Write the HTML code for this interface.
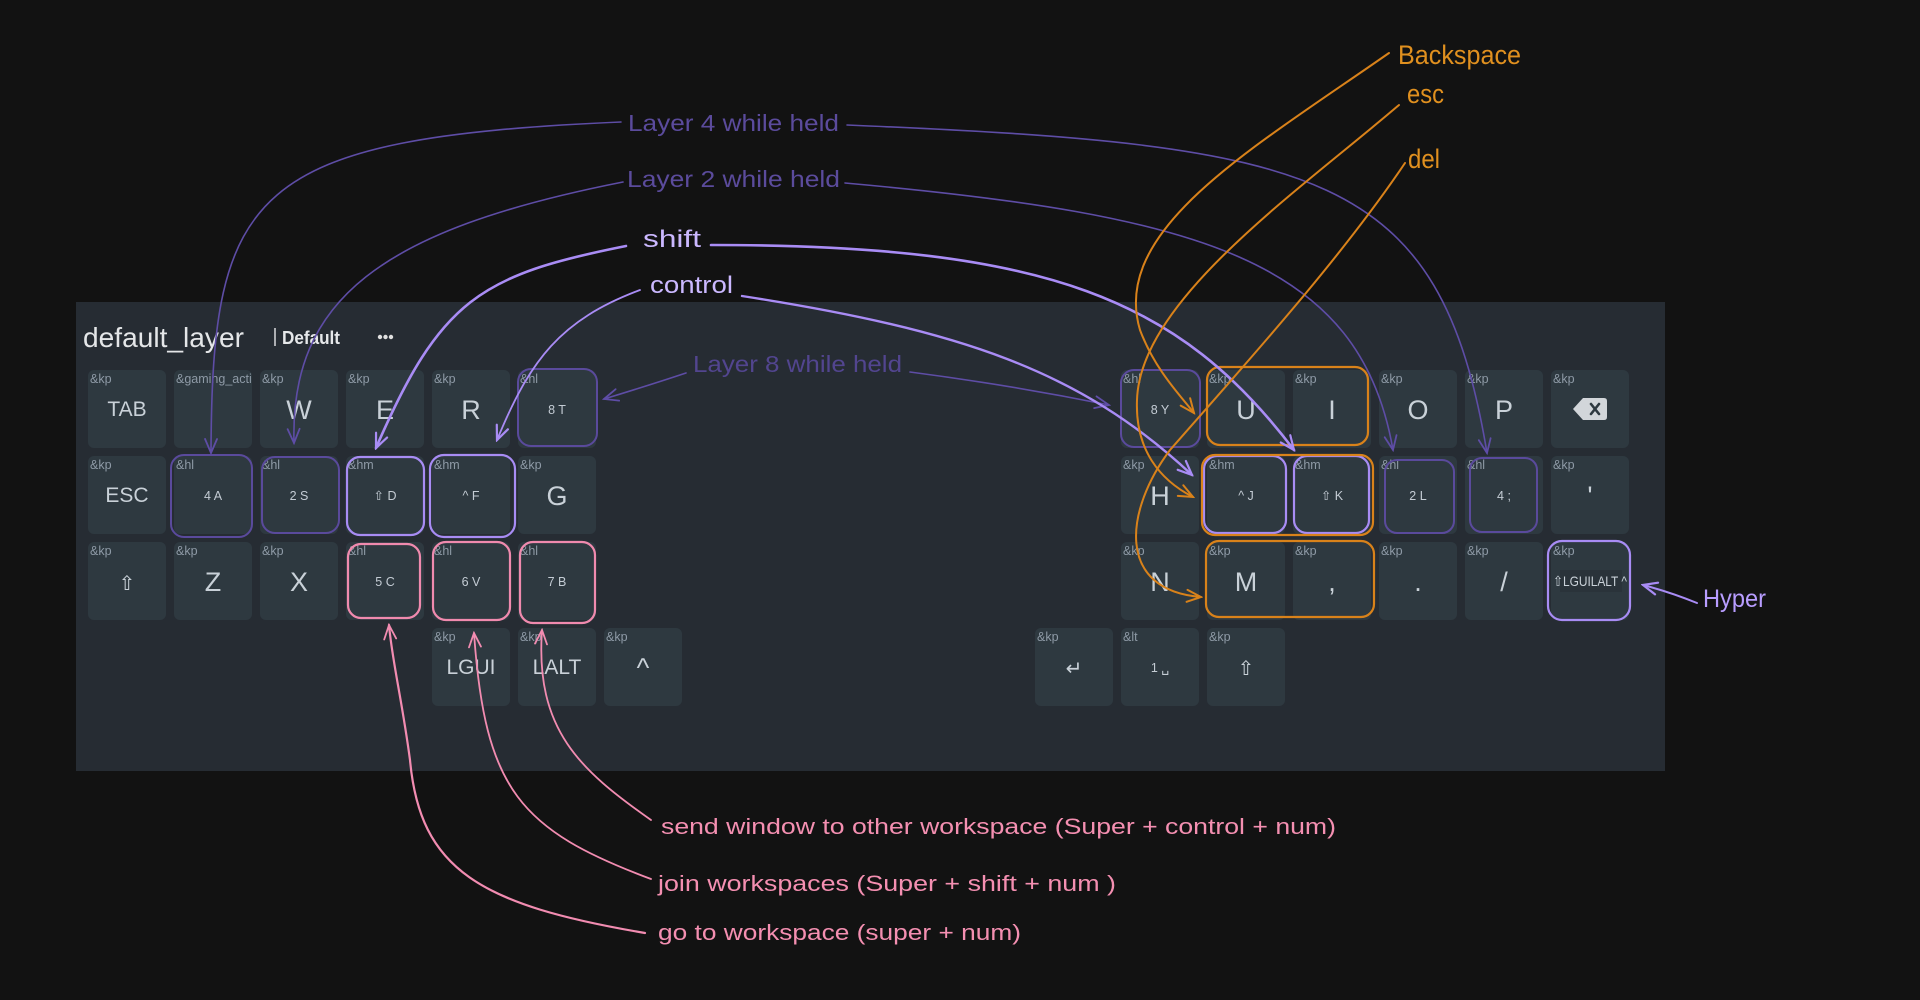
<!DOCTYPE html>
<html><head><meta charset="utf-8"><style>
html,body{margin:0;padding:0;background:#121212;}
svg{display:block}
.k{fill:#2e3940}
.sl{font-family:"Liberation Sans","DejaVu Sans",sans-serif;font-size:12.5px;fill:#8e9aa6}
.big{font-family:"Liberation Sans","DejaVu Sans",sans-serif;font-size:27px;fill:#c9d1d8;text-anchor:middle}
.med{font-family:"Liberation Sans","DejaVu Sans",sans-serif;font-size:21px;fill:#c9d1d8;text-anchor:middle}
.sm{font-family:"Liberation Sans","DejaVu Sans",sans-serif;font-size:12.5px;fill:#c4ccd4;text-anchor:middle}
.sym{font-family:"DejaVu Sans",sans-serif;font-size:20px;fill:#c9d1d8;text-anchor:middle}
.ann{font-family:"Liberation Sans","DejaVu Sans",sans-serif;}
</style></head><body>
<svg width="1920" height="1000" viewBox="0 0 1920 1000" xmlns="http://www.w3.org/2000/svg">
<defs>
<marker id="mD" viewBox="-16 -9 18 18" markerWidth="18" markerHeight="18" refX="0" refY="0" orient="auto" markerUnits="userSpaceOnUse"><path d="M-14,-6 L0,0 L-14,6" fill="none" stroke="#5e4da6" stroke-width="1.8" stroke-linecap="round"/></marker>
<marker id="mL" viewBox="-16 -9 18 18" markerWidth="18" markerHeight="18" refX="0" refY="0" orient="auto" markerUnits="userSpaceOnUse"><path d="M-14,-6 L0,0 L-14,6" fill="none" stroke="#a98cf5" stroke-width="2.2" stroke-linecap="round"/></marker>
<marker id="mP" viewBox="-16 -9 18 18" markerWidth="18" markerHeight="18" refX="0" refY="0" orient="auto" markerUnits="userSpaceOnUse"><path d="M-14,-6 L0,0 L-14,6" fill="none" stroke="#f28cb1" stroke-width="1.8" stroke-linecap="round"/></marker>
<marker id="mO" viewBox="-16 -9 18 18" markerWidth="18" markerHeight="18" refX="0" refY="0" orient="auto" markerUnits="userSpaceOnUse"><path d="M-14,-6 L0,0 L-14,6" fill="none" stroke="#d9821a" stroke-width="2" stroke-linecap="round"/></marker>
</defs>
<rect width="1920" height="1000" fill="#121212"/>
<rect x="76" y="302" width="1589" height="469" fill="#262c33"/>

<!-- header -->
<text x="83" y="347" font-family="Liberation Sans, DejaVu Sans, sans-serif" font-size="28" fill="#e4e6e8" textLength="161" lengthAdjust="spacingAndGlyphs">default_layer</text>
<line x1="275" y1="328" x2="275" y2="346" stroke="#d8dadc" stroke-width="1.5"/>
<text x="282" y="344" font-family="Liberation Sans, DejaVu Sans, sans-serif" font-size="18" font-weight="bold" fill="#e6e8ea" textLength="58" lengthAdjust="spacingAndGlyphs">Default</text>
<circle cx="380" cy="337" r="2.2" fill="#e0e0e0"/><circle cx="385.5" cy="337" r="2.2" fill="#e0e0e0"/><circle cx="391" cy="337" r="2.2" fill="#e0e0e0"/>

<!-- LEFT KEYS -->
<g>
<rect class="k" x="88" y="370" width="78" height="78" rx="6"/><text class="sl" x="90" y="383">&amp;kp</text><text class="med" x="127" y="416">TAB</text>
<rect class="k" x="174" y="370" width="78" height="78" rx="6"/><text class="sl" x="176" y="383">&amp;gaming_acti</text>
<rect class="k" x="260" y="370" width="78" height="78" rx="6"/><text class="sl" x="262" y="383">&amp;kp</text><text class="big" x="299" y="419">W</text>
<rect class="k" x="346" y="370" width="78" height="78" rx="6"/><text class="sl" x="348" y="383">&amp;kp</text><text class="big" x="385" y="419">E</text>
<rect class="k" x="432" y="370" width="78" height="78" rx="6"/><text class="sl" x="434" y="383">&amp;kp</text><text class="big" x="471" y="419">R</text>
<rect class="k" x="518" y="370" width="78" height="78" rx="6"/><text class="sl" x="520" y="383">&amp;hl</text><text class="sm" x="557" y="414">8 T</text>

<rect class="k" x="88" y="456" width="78" height="78" rx="6"/><text class="sl" x="90" y="469">&amp;kp</text><text class="med" x="127" y="502">ESC</text>
<rect class="k" x="174" y="456" width="78" height="78" rx="6"/><text class="sl" x="176" y="469">&amp;hl</text><text class="sm" x="213" y="500">4 A</text>
<rect class="k" x="260" y="456" width="78" height="78" rx="6"/><text class="sl" x="262" y="469">&amp;hl</text><text class="sm" x="299" y="500">2 S</text>
<rect class="k" x="346" y="456" width="78" height="78" rx="6"/><text class="sl" x="348" y="469">&amp;hm</text><text class="sm" x="385" y="500">⇧ D</text>
<rect class="k" x="432" y="456" width="78" height="78" rx="6"/><text class="sl" x="434" y="469">&amp;hm</text><text class="sm" x="471" y="500">^ F</text>
<rect class="k" x="518" y="456" width="78" height="78" rx="6"/><text class="sl" x="520" y="469">&amp;kp</text><text class="big" x="557" y="505">G</text>

<rect class="k" x="88" y="542" width="78" height="78" rx="6"/><text class="sl" x="90" y="555">&amp;kp</text><text class="sym" x="127" y="590">⇧</text>
<rect class="k" x="174" y="542" width="78" height="78" rx="6"/><text class="sl" x="176" y="555">&amp;kp</text><text class="big" x="213" y="591">Z</text>
<rect class="k" x="260" y="542" width="78" height="78" rx="6"/><text class="sl" x="262" y="555">&amp;kp</text><text class="big" x="299" y="591">X</text>
<rect class="k" x="346" y="542" width="78" height="78" rx="6"/><text class="sl" x="348" y="555">&amp;hl</text><text class="sm" x="385" y="586">5 C</text>
<rect class="k" x="432" y="542" width="78" height="78" rx="6"/><text class="sl" x="434" y="555">&amp;hl</text><text class="sm" x="471" y="586">6 V</text>
<rect class="k" x="518" y="542" width="78" height="78" rx="6"/><text class="sl" x="520" y="555">&amp;hl</text><text class="sm" x="557" y="586">7 B</text>

<rect class="k" x="432" y="628" width="78" height="78" rx="6"/><text class="sl" x="434" y="641">&amp;kp</text><text class="med" x="471" y="674">LGUI</text>
<rect class="k" x="518" y="628" width="78" height="78" rx="6"/><text class="sl" x="520" y="641">&amp;kp</text><text class="med" x="557" y="674">LALT</text>
<rect class="k" x="604" y="628" width="78" height="78" rx="6"/><text class="sl" x="606" y="641">&amp;kp</text><text class="big" x="643" y="677">^</text>
</g>

<!-- RIGHT KEYS -->
<g>
<rect class="k" x="1121" y="370" width="78" height="78" rx="6"/><text class="sl" x="1123" y="383">&amp;hl</text><text class="sm" x="1160" y="414">8 Y</text>
<rect class="k" x="1207" y="370" width="78" height="78" rx="6"/><text class="sl" x="1209" y="383">&amp;kp</text><text class="big" x="1246" y="419">U</text>
<rect class="k" x="1293" y="370" width="78" height="78" rx="6"/><text class="sl" x="1295" y="383">&amp;kp</text><text class="big" x="1332" y="419">I</text>
<rect class="k" x="1379" y="370" width="78" height="78" rx="6"/><text class="sl" x="1381" y="383">&amp;kp</text><text class="big" x="1418" y="419">O</text>
<rect class="k" x="1465" y="370" width="78" height="78" rx="6"/><text class="sl" x="1467" y="383">&amp;kp</text><text class="big" x="1504" y="419">P</text>
<rect class="k" x="1551" y="370" width="78" height="78" rx="6"/><text class="sl" x="1553" y="383">&amp;kp</text>
<path d="M1573,409 L1583,398 L1604,398 Q1607,398 1607,401 L1607,417 Q1607,420 1604,420 L1583,420 Z" fill="#d2d6da"/>
<path d="M1591,404 L1599,414 M1599,404 L1591,414" stroke="#2e3940" stroke-width="2.6" stroke-linecap="round"/>

<rect class="k" x="1121" y="456" width="78" height="78" rx="6"/><text class="sl" x="1123" y="469">&amp;kp</text><text class="big" x="1160" y="505">H</text>
<rect class="k" x="1207" y="456" width="78" height="78" rx="6"/><text class="sl" x="1209" y="469">&amp;hm</text><text class="sm" x="1246" y="500">^ J</text>
<rect class="k" x="1293" y="456" width="78" height="78" rx="6"/><text class="sl" x="1295" y="469">&amp;hm</text><text class="sm" x="1332" y="500">⇧ K</text>
<rect class="k" x="1379" y="456" width="78" height="78" rx="6"/><text class="sl" x="1381" y="469">&amp;hl</text><text class="sm" x="1418" y="500">2 L</text>
<rect class="k" x="1465" y="456" width="78" height="78" rx="6"/><text class="sl" x="1467" y="469">&amp;hl</text><text class="sm" x="1504" y="500">4 ;</text>
<rect class="k" x="1551" y="456" width="78" height="78" rx="6"/><text class="sl" x="1553" y="469">&amp;kp</text><text class="big" x="1590" y="505">'</text>

<rect class="k" x="1121" y="542" width="78" height="78" rx="6"/><text class="sl" x="1123" y="555">&amp;kp</text><text class="big" x="1160" y="591">N</text>
<rect class="k" x="1207" y="542" width="78" height="78" rx="6"/><text class="sl" x="1209" y="555">&amp;kp</text><text class="big" x="1246" y="591">M</text>
<rect class="k" x="1293" y="542" width="78" height="78" rx="6"/><text class="sl" x="1295" y="555">&amp;kp</text><text class="big" x="1332" y="591">,</text>
<rect class="k" x="1379" y="542" width="78" height="78" rx="6"/><text class="sl" x="1381" y="555">&amp;kp</text><text class="big" x="1418" y="591">.</text>
<rect class="k" x="1465" y="542" width="78" height="78" rx="6"/><text class="sl" x="1467" y="555">&amp;kp</text><text class="big" x="1504" y="591">/</text>
<rect class="k" x="1551" y="542" width="78" height="78" rx="6"/><text class="sl" x="1553" y="555">&amp;kp</text>
<rect x="1560" y="570" width="62" height="22" fill="#2a333a"/>
<text x="1590" y="586" font-family="Liberation Sans, DejaVu Sans, sans-serif" font-size="14" fill="#c9d1d8" text-anchor="middle" textLength="74" lengthAdjust="spacingAndGlyphs">⇧LGUILALT ^</text>

<rect class="k" x="1035" y="628" width="78" height="78" rx="6"/><text class="sl" x="1037" y="641">&amp;kp</text><text class="sym" x="1074" y="675">↵</text>
<rect class="k" x="1121" y="628" width="78" height="78" rx="6"/><text class="sl" x="1123" y="641">&amp;lt</text><text class="sm" x="1160" y="672">1 ␣</text>
<rect class="k" x="1207" y="628" width="78" height="78" rx="6"/><text class="sl" x="1209" y="641">&amp;kp</text><text class="sym" x="1246" y="675">⇧</text>
</g>

<!-- OUTLINES -->
<g fill="none" stroke-width="2">
<g stroke="#5a4a9c">
<rect x="171" y="455" width="81" height="82" rx="13"/>
<rect x="262" y="457" width="77" height="76" rx="13"/>
<rect x="518" y="369" width="79" height="77" rx="13"/>
<rect x="1121" y="370" width="79" height="77" rx="13"/>
<rect x="1385" y="460" width="69" height="73" rx="12"/>
<rect x="1470" y="458" width="67" height="74" rx="12"/>
</g>
<g stroke="#a88cf4" stroke-width="2.2">
<rect x="347" y="457" width="77" height="78" rx="13"/>
<rect x="430" y="455" width="85" height="82" rx="14"/>
<rect x="1204" y="456" width="82" height="77" rx="13"/>
<rect x="1294" y="456" width="75" height="77" rx="13"/>
<rect x="1548" y="541" width="82" height="79" rx="14"/>
</g>
<g stroke="#f08aae" stroke-width="2.2">
<rect x="348" y="544" width="72" height="74" rx="13"/>
<rect x="433" y="542" width="77" height="78" rx="13"/>
<rect x="520" y="542" width="75" height="81" rx="13"/>
</g>
<g stroke="#d9821a" stroke-width="2.2">
<rect x="1207" y="367" width="161" height="78" rx="13"/>
<rect x="1202" y="455" width="171" height="80" rx="13"/>
<rect x="1206" y="541" width="168" height="76" rx="13"/>
</g>
</g>

<!-- CONNECTORS -->
<g fill="none" stroke-linecap="round">
<g stroke="#5e4da6" stroke-width="1.6">
<path d="M621,122 C 250,138 212,190 211,453" marker-end="url(#mD)"/>
<path d="M847,125 C 1320,145 1440,170 1487,453" marker-end="url(#mD)"/>
<path d="M623,182 C 380,230 290,300 294,443" marker-end="url(#mD)"/>
<path d="M845,183 C 1200,215 1360,260 1393,450" marker-end="url(#mD)"/>
<path d="M686,373 Q 650,385 604,399" marker-end="url(#mD)"/>
<path d="M910,372 Q 1010,385 1109,405" marker-end="url(#mD)"/>
</g>
<g stroke="#a98cf5">
<path d="M626,246 C 480,275 440,300 376,448" stroke-width="2.6" marker-end="url(#mL)"/>
<path d="M711,245 C 1050,245 1180,300 1294,450" stroke-width="2.6" marker-end="url(#mL)"/>
<path d="M640,290 C 560,320 530,360 497,440" stroke-width="1.8" marker-end="url(#mL)"/>
<path d="M742,296 C 960,330 1080,370 1192,475" stroke-width="2.4" marker-end="url(#mL)"/>
<path d="M1697,603 Q 1670,592 1643,585" stroke-width="2" marker-end="url(#mL)"/>
</g>
<g stroke="#d9821a" stroke-width="2">
<path d="M1389,53 C 1250,150 1110,230 1140,330 C 1155,370 1180,395 1194,413" marker-end="url(#mO)"/>
<path d="M1399,105 C 1300,190 1140,300 1137,400 C 1135,450 1160,480 1193,497" marker-end="url(#mO)"/>
<path d="M1405,163 C 1340,260 1240,370 1170,450 C 1125,510 1115,590 1201,597" marker-end="url(#mO)"/>
</g>
<g stroke="#f28cb1" stroke-width="1.8">
<path d="M651,820 C 580,770 535,730 542,630" marker-end="url(#mP)"/>
<path d="M651,879 C 520,830 485,790 474,633" marker-end="url(#mP)"/>
<path d="M645,933 C 480,905 420,870 410,760 C 402,700 392,660 389,625" stroke-width="2.2" marker-end="url(#mP)"/>
</g>
</g>

<!-- ANNOTATION TEXT -->
<g class="ann">
<text x="628" y="131" font-size="23" fill="#5b4b9c" textLength="211" lengthAdjust="spacingAndGlyphs">Layer 4 while held</text>
<text x="627" y="187" font-size="23" fill="#5b4b9c" textLength="213" lengthAdjust="spacingAndGlyphs">Layer 2 while held</text>
<text x="643" y="247" font-size="24" fill="#cbb8ff" textLength="58" lengthAdjust="spacingAndGlyphs">shift</text>
<text x="650" y="293" font-size="24" fill="#cbb8ff" textLength="83" lengthAdjust="spacingAndGlyphs">control</text>
<text x="693" y="372" font-size="23" fill="#52458f" textLength="209" lengthAdjust="spacingAndGlyphs">Layer 8 while held</text>
<text x="1398" y="64" font-size="27" fill="#e0901f" textLength="123" lengthAdjust="spacingAndGlyphs">Backspace</text>
<text x="1407" y="103" font-size="27" fill="#e0901f" textLength="37" lengthAdjust="spacingAndGlyphs">esc</text>
<text x="1408" y="168" font-size="27" fill="#e0901f" textLength="32" lengthAdjust="spacingAndGlyphs">del</text>
<text x="1703" y="607" font-size="25" fill="#b89dff" textLength="63" lengthAdjust="spacingAndGlyphs">Hyper</text>
<text x="661" y="834" font-size="22" fill="#f48fb1" textLength="675" lengthAdjust="spacingAndGlyphs">send window to other workspace (Super + control + num)</text>
<text x="658" y="891" font-size="22" fill="#f48fb1" textLength="458" lengthAdjust="spacingAndGlyphs">join workspaces (Super + shift + num )</text>
<text x="658" y="940" font-size="22" fill="#f48fb1" textLength="363" lengthAdjust="spacingAndGlyphs">go to workspace (super + num)</text>
</g>
</svg>
</body></html>
